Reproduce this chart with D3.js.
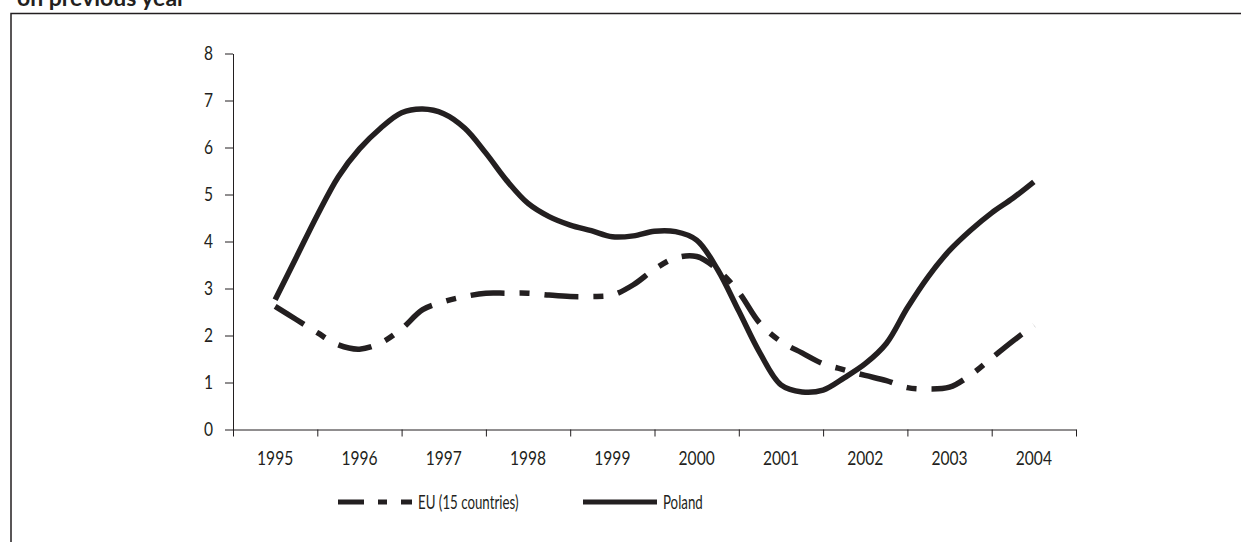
<!DOCTYPE html>
<html>
<head>
<meta charset="utf-8">
<script src="https://cdn.jsdelivr.net/npm/d3@7"></script>
<style>
  body { margin: 0; background: #fff; }
  svg { display: block; }
  text { font-family: "Lato", sans-serif; fill: #231f20; }
</style>
</head>
<body>
<svg id="chart" width="1241" height="542"></svg>
<script>
// categories on the x axis
var years = ["1995", "1996", "1997", "1998", "1999", "2000", "2001", "2002", "2003", "2004"];
// quarterly readings, 1995 to 2004 (37 points)
var quarters = d3.range(0, 37).map(function(q){ return 1995 + q / 4; });
var poland = [2.76, 3.66, 4.56, 5.38, 5.97, 6.41, 6.74, 6.82, 6.72, 6.41, 5.88, 5.29, 4.81,
              4.53, 4.35, 4.23, 4.10, 4.12, 4.22, 4.21, 4.03, 3.40, 2.52, 1.63, 0.95, 0.80,
              0.84, 1.10, 1.40, 1.83, 2.59, 3.26, 3.81, 4.24, 4.61, 4.92, 5.27];
var eu15   = [2.62, 2.34, 2.06, 1.80, 1.71, 1.84, 2.14, 2.55, 2.72, 2.83, 2.90, 2.90, 2.90,
              2.86, 2.83, 2.83, 2.86, 3.08, 3.41, 3.65, 3.68, 3.40, 2.92, 2.26, 1.87, 1.63,
              1.40, 1.27, 1.15, 1.04, 0.89, 0.86, 0.90, 1.16, 1.52, 1.88, 2.22];
var yTicks = [0, 1, 2, 3, 4, 5, 6, 7, 8];
var seriesNames = ["EU (15 countries)", "Poland"];

var ink = "#231f20";
var svg = d3.select("#chart");

// frame and cut-off heading
svg.append("path")
    .attr("d", "M11,545 L11,13.5 L1245,13.5")
    .attr("fill", "none").attr("stroke", ink).attr("stroke-width", 1.5);
svg.append("text")
    .attr("x", 17).attr("y", 6)
    .style("font-weight", "bold").style("font-size", "23px")
    .text("on previous year");

var plotLeft = 233, plotRight = 1076, plotTop = 53.5, plotBottom = 429.5;

var x = d3.scaleBand().domain(years).range([plotLeft, plotRight]);
var xEdge = d3.scaleLinear().domain([0, years.length]).range([plotLeft, plotRight]);
var xq = d3.scaleLinear()
    .domain([1995, 2004])
    .range([x("1995") + x.bandwidth() / 2, x("2004") + x.bandwidth() / 2]);
var y = d3.scaleLinear().domain([0, 8]).range([plotBottom, plotTop]);

// narrow a text horizontally around its own anchor
function narrow(sel, k){
  sel.each(function(){
    var t = d3.select(this);
    var tx = +t.attr("x") || 0;
    t.attr("x", 0).attr("transform", "translate(" + tx + ",0) scale(" + k + ",1)");
  });
}

// y axis
var gy = svg.append("g")
    .attr("transform", "translate(" + plotLeft + ",0)")
    .call(d3.axisLeft(y).tickValues(yTicks).tickSize(8).tickSizeOuter(0).tickPadding(12));
gy.selectAll("text").style("font-size", "19px").call(narrow, 0.82);

// x axis: tick marks on category edges, labels centred
var gx = svg.append("g")
    .attr("transform", "translate(0," + plotBottom + ")")
    .call(d3.axisBottom(xEdge).tickValues(d3.range(0, years.length + 1)).tickSize(7).tickSizeOuter(0).tickFormat(""));
var gxl = svg.append("g")
    .attr("transform", "translate(0," + plotBottom + ")")
    .call(d3.axisBottom(x).tickSize(0).tickPadding(22));
gxl.select(".domain").remove();
gxl.selectAll("text").style("font-size", "19px").call(narrow, 0.82);

svg.selectAll(".domain, .tick line").attr("stroke", ink);
svg.selectAll(".tick text").attr("fill", ink);

var line = d3.line()
    .x(function(d, i){ return xq(quarters[i]); })
    .y(function(d){ return y(d); })
    .curve(d3.curveCatmullRom.alpha(0.5));

svg.append("path")
    .datum(eu15)
    .attr("d", line)
    .attr("fill", "none").attr("stroke", ink)
    .attr("stroke-width", 5.5)
    .attr("stroke-dasharray", "34,15,10,15");

svg.append("path")
    .datum(poland)
    .attr("d", line)
    .attr("fill", "none").attr("stroke", ink)
    .attr("stroke-width", 5.5);

// legend (text narrowed to match the condensed face of the original)
var legY = 502;
var legend = [
  {name: seriesNames[0], x1: 338, dash: "26,14,9,14"},
  {name: seriesNames[1], x1: 583, dash: null}
];
legend.forEach(function(l){
  svg.append("line")
      .attr("x1", l.x1).attr("x2", l.x1 + 74).attr("y1", legY).attr("y2", legY)
      .attr("stroke", ink).attr("stroke-width", 5)
      .attr("stroke-dasharray", l.dash);
  svg.append("g")
      .attr("transform", "translate(" + (l.x1 + 80) + "," + legY + ") scale(0.7,1)")
    .append("text")
      .attr("dy", "0.35em")
      .style("font-size", "19px")
      .text(l.name);
});
</script>
</body>
</html>
